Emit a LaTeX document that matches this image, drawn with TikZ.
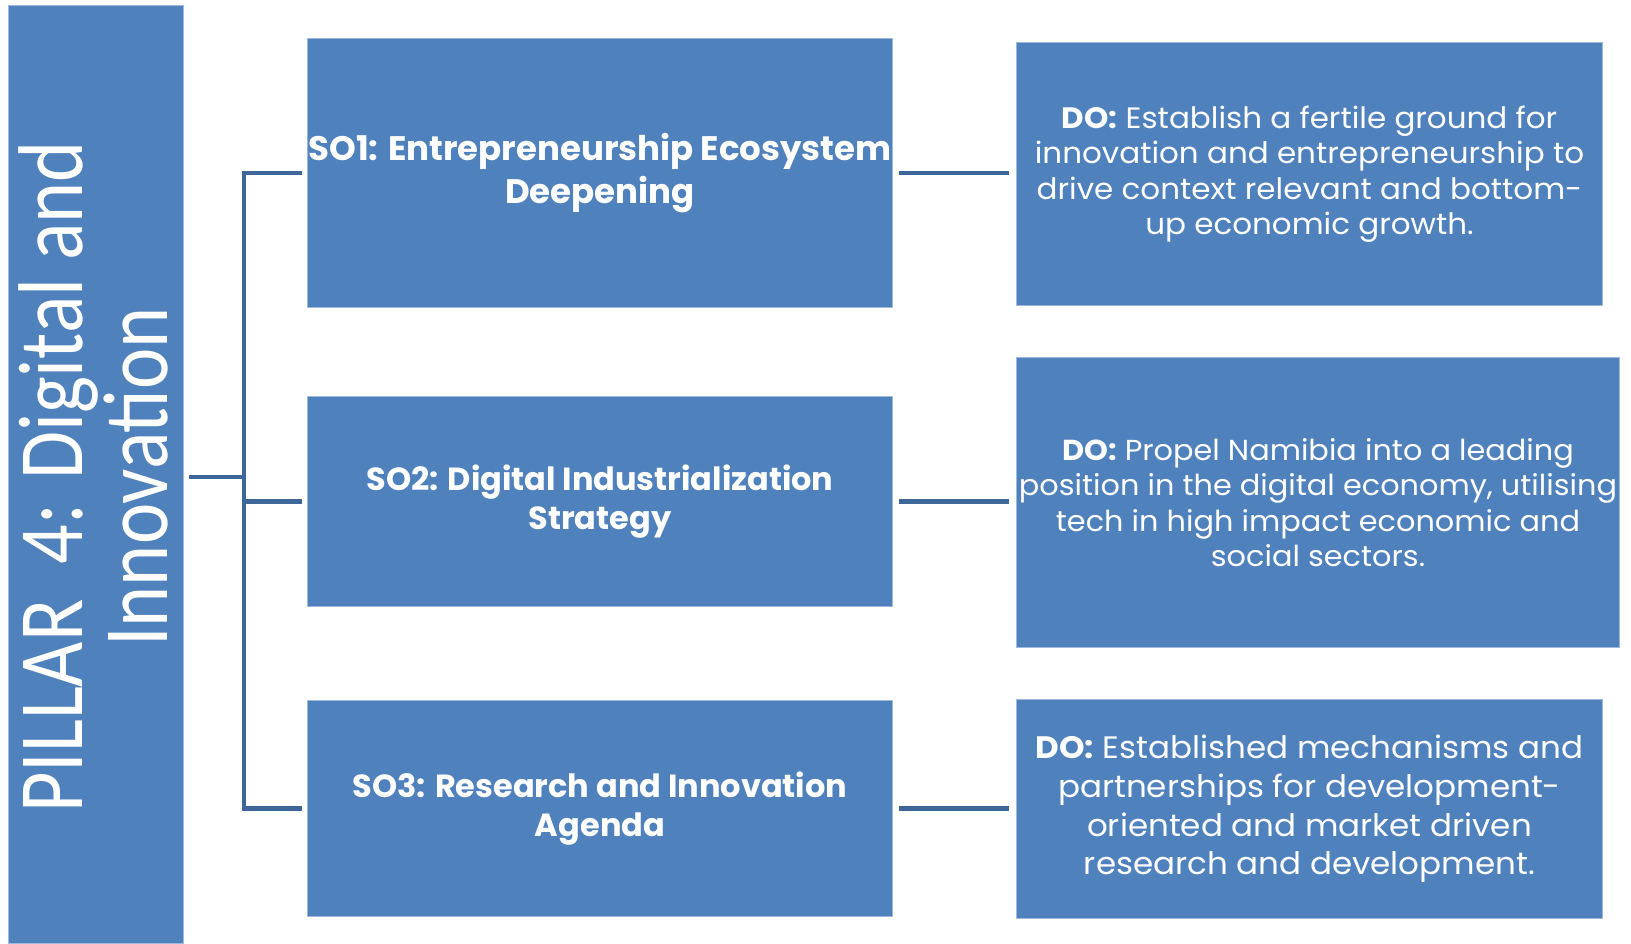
\documentclass[tikz,border=0pt]{standalone}
\usepackage{fontspec}
\setmainfont{Poppins}
\newfontfamily\dofont[FakeStretch=1.05]{Poppins}
\newfontfamily\sofont{Poppins}
\newfontfamily\pillarfont[FakeStretch=0.85]{Carlito}
\definecolor{boxblue}{HTML}{4F81BD}
\definecolor{linkblue}{HTML}{3D6699}
\definecolor{edgeblue}{HTML}{9DB9DD}
\tikzset{
  box/.style={draw=edgeblue, line width=1pt, fill=boxblue, text=white, align=center, inner sep=0pt, anchor=north west},
  conn/.style={draw=linkblue, line width=4.5pt},
  sotext/.style={font=\sofont\bfseries\fontsize{34}{42.5}\selectfont},
  sotextb/.style={font=\sofont\bfseries\fontsize{32}{38.5}\selectfont},
  dotext/.style={font=\dofont\fontsize{29.5}{35.5}\selectfont},
  dotextm/.style={font=\dofont\fontsize{28.9}{35.5}\selectfont},
  dotextb/.style={font=\dofont\fontsize{31}{38.8}\selectfont}
}
\begin{document}
\begin{tikzpicture}[x=1pt,y=-1pt]
\useasboundingbox (0,0) rectangle (1631,943);
\fill[white] (0,0) rectangle (1631,943);
% pillar
\node[box, minimum width=175pt, minimum height=938pt] (pillar) at (8,5) {};
\node[rotate=90, text=white, align=center, inner sep=0pt,
      font=\pillarfont\fontsize{92}{85}\selectfont] (ptext) at (93,477)
      {PILLAR\ \ 4: Digital and\\Innovation};
% strategic objectives
\node[box, sotext, minimum width=585pt, minimum height=269pt] (so1) at (307,38)
  {SO1: Entrepreneurship Ecosystem\\Deepening};
\node[box, sotextb, minimum width=585pt, minimum height=210pt] (so2) at (307,396)
  {SO2: Digital Industrialization\\Strategy};
\node[box, sotextb, minimum width=585pt, minimum height=216pt] (so3) at (307,700)
  {SO3: Research and Innovation\\Agenda};
% desired outcomes
\node[box, dotext, minimum width=586pt, minimum height=263pt] (do1) at (1016,42)
  {\textbf{DO:} Establish a fertile ground for\\innovation and entrepreneurship to\\drive context relevant and bottom-\\up economic growth.};
\node[box, dotextm, minimum width=603pt, minimum height=290pt] (do2) at (1016,357)
  {\textbf{DO:} Propel Namibia into a leading\\position in the digital economy, utilising\\tech in high impact economic and\\social sectors.};
\node[box, dotextb, minimum width=586pt, minimum height=219pt] (do3) at (1016,699)
  {\textbf{DO:} Established mechanisms and\\partnerships for development-\\oriented and market driven\\research and development.};
% bracket
\coordinate (j) at (244,477);
\draw[conn] ([xshift=5pt]pillar.east |- j) -- (j);
\draw[conn] ([xshift=-5pt]so1.west) -- (so1.west -| j) -- (so3.west -| j) -- ([xshift=-5pt]so3.west);
\draw[conn] (so2.west -| j) -- ([xshift=-5pt]so2.west);
% SO -> DO
\draw[conn, shorten <=6pt, shorten >=7pt] (so1.east) -- (so1.east -| do1.west);
\draw[conn, shorten <=6pt, shorten >=7pt] (so2.east) -- (so2.east -| do2.west);
\draw[conn, shorten <=6pt, shorten >=7pt] (so3.east) -- (so3.east -| do3.west);
\end{tikzpicture}
\end{document}
